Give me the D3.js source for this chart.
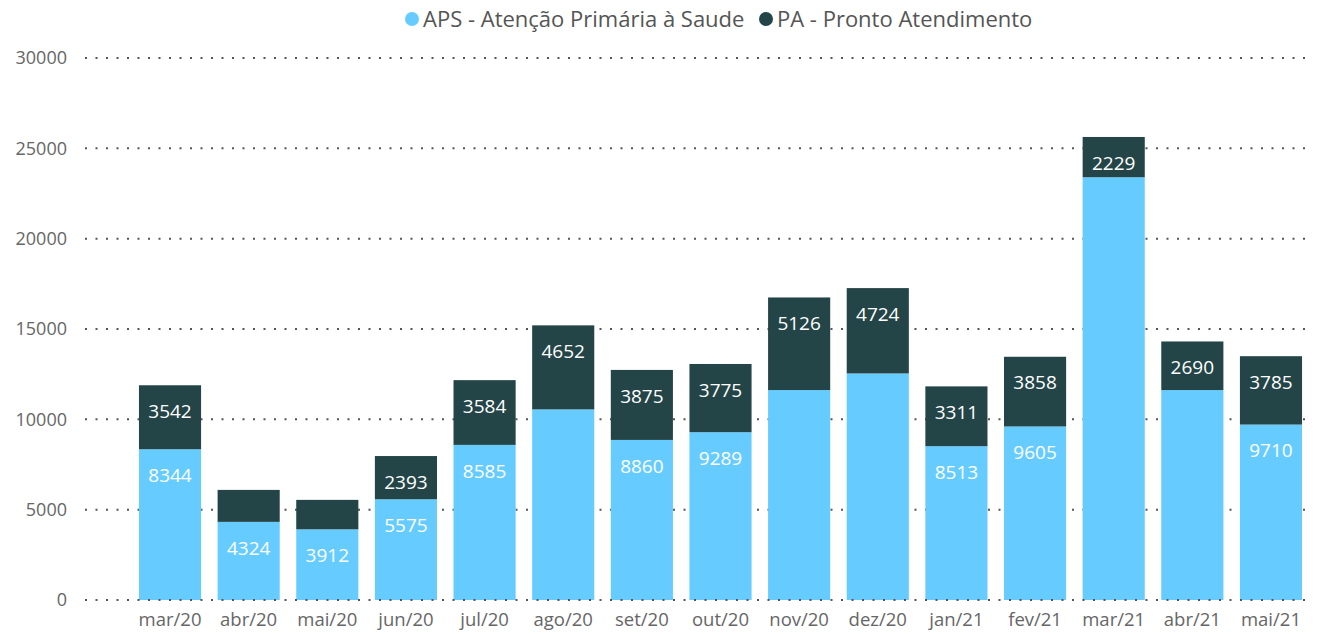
<!DOCTYPE html>
<html>
<head>
<meta charset="utf-8">
<script src="https://cdn.jsdelivr.net/npm/d3@7"></script>
<style>
  body { margin: 0; background: #fff; }
  text { font-family: "Open Sans", "Noto Sans", sans-serif; }
</style>
</head>
<body>
<div id="chart"></div>
<script>
var months = ["mar/20", "abr/20", "mai/20", "jun/20", "jul/20", "ago/20", "set/20", "out/20",
              "nov/20", "dez/20", "jan/21", "fev/21", "mar/21", "abr/21", "mai/21"];
var aps = [8344, 4324, 3912, 5575, 8585, 10550, 8860, 9289, 11620, 12540, 8513, 9605, 23400, 11620, 9710];
var pa = [3542, 1770, 1630, 2393, 3584, 4652, 3875, 3775, 5126, 4724, 3311, 3858, 2229, 2690, 3785];
// which values carry a data label in the original
var apsShown = [1, 1, 1, 1, 1, 0, 1, 1, 0, 0, 1, 1, 0, 0, 1];
var paShown = [1, 0, 0, 1, 1, 1, 1, 1, 1, 1, 1, 1, 1, 1, 1];
var yTicks = [0, 5000, 10000, 15000, 20000, 25000, 30000];
var seriesNames = ["APS - Atenção Primária à Saude", "PA - Pronto Atendimento"];
var colors = ["#66ccff", "#244548"];

var width = 1319, height = 634;
var margin = { top: 58, right: 9, bottom: 34, left: 85 };

var svg = d3.select("#chart").append("svg")
    .attr("width", width)
    .attr("height", height);

var x = d3.scaleBand()
    .domain(months)
    .range([130.7, 1310.3])
    .paddingInner(0.21)
    .paddingOuter(0.105);

var y = d3.scaleLinear()
    .domain([0, 30000])
    .range([height - margin.bottom, margin.top]);

// gridlines
svg.append("g").selectAll("line.grid")
    .data(yTicks.filter(d => d > 0))
    .enter().append("line")
    .attr("class", "grid")
    .attr("x1", margin.left)
    .attr("x2", width - margin.right)
    .attr("y1", d => y(d))
    .attr("y2", d => y(d))
    .attr("stroke", "#555")
    .attr("stroke-width", 2)
    .attr("stroke-dasharray", "2,8.5");

// y tick labels
svg.append("g").selectAll("text")
    .data(yTicks)
    .enter().append("text")
    .attr("x", 67)
    .attr("y", d => y(d))
    .attr("dy", "0.35em")
    .attr("text-anchor", "end")
    .attr("font-size", 18)
    .attr("fill", "#666")
    .text(d => d);

var rows = months.map((m, i) => ({ month: m, aps: aps[i], pa: pa[i], i: i }));
var stack = d3.stack().keys(["aps", "pa"])(rows);

var layer = svg.append("g").selectAll("g")
    .data(stack)
    .enter().append("g")
    .attr("fill", (d, k) => colors[k]);

layer.selectAll("rect")
    .data(d => d)
    .enter().append("rect")
    .attr("x", d => x(d.data.month))
    .attr("width", x.bandwidth())
    .attr("y", d => y(d[1]))
    .attr("height", d => y(d[0]) - y(d[1]));

// baseline drawn over the bars
svg.append("line")
    .attr("x1", margin.left)
    .attr("x2", width - margin.right)
    .attr("y1", y(0))
    .attr("y2", y(0))
    .attr("stroke", "#555")
    .attr("stroke-width", 2)
    .attr("stroke-dasharray", "2,8.5");

// data labels
var shown = [apsShown, paShown];
stack.forEach((s, k) => {
    svg.append("g").selectAll("text")
        .data(s.filter((d, i) => shown[k][i]))
        .enter().append("text")
        .attr("x", d => x(d.data.month) + x.bandwidth() / 2)
        .attr("y", d => y(d[1]) + 26)
        .attr("dy", "0.35em")
        .attr("text-anchor", "middle")
        .attr("font-size", 19)
        .attr("fill", "#fff")
        .text(d => d[1] - d[0]);
});

// x labels
svg.append("g").selectAll("text")
    .data(months)
    .enter().append("text")
    .attr("x", d => x(d) + x.bandwidth() / 2)
    .attr("y", 620)
    .attr("dy", "0.35em")
    .attr("text-anchor", "middle")
    .attr("font-size", 18.5)
    .attr("fill", "#666")
    .text(d => d);

// legend
var legendX = [412, 766];
var legend = svg.append("g").selectAll("g")
    .data(seriesNames)
    .enter().append("g")
    .attr("transform", (d, i) => "translate(" + legendX[i] + ",19)");

legend.append("circle")
    .attr("r", 7)
    .attr("fill", (d, i) => colors[i]);

legend.append("text")
    .attr("x", 11)
    .attr("dy", "0.35em")
    .attr("font-size", 22)
    .attr("fill", "#555")
    .text(d => d);
</script>
</body>
</html>
